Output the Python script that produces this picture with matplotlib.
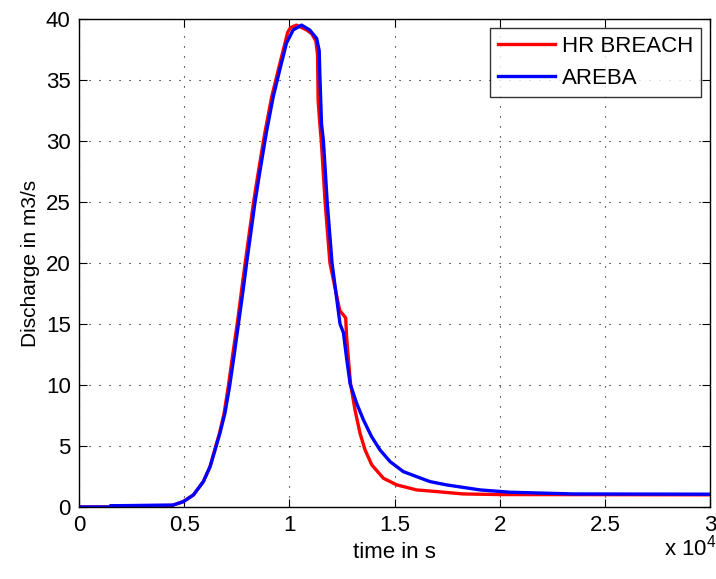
import matplotlib
matplotlib.use('Agg')
import matplotlib.pyplot as plt

plt.rcParams['font.family'] = ['Liberation Sans', 'DejaVu Sans']
plt.rcParams['mathtext.fontset'] = 'custom'
plt.rcParams['mathtext.rm'] = 'Liberation Sans'

# time in units of 10^4 s, discharge in m3/s
t_hr = [0, 0.15, 0.15, 0.44, 0.496, 0.544, 0.591, 0.623, 0.645, 0.668, 0.690, 0.710,
        0.731, 0.752, 0.771, 0.790, 0.810, 0.830, 0.853, 0.877, 0.885, 0.916, 0.947,
        0.979, 0.992, 1.006, 1.034, 1.082, 1.106, 1.126, 1.134, 1.137, 1.145, 1.152,
        1.17, 1.193, 1.23, 1.24, 1.268, 1.272, 1.281, 1.291, 1.312, 1.336, 1.360,
        1.392, 1.447, 1.511, 1.605, 1.669, 1.827, 2.0, 3.0]
q_hr = [0, 0, 0.1, 0.12, 0.44, 0.99, 2.08, 3.3, 4.68, 6.05, 7.7, 9.9,
        12.5, 15.0, 17.5, 20.0, 22.5, 25.0, 27.5, 30.0, 30.8, 33.6, 35.8,
        38.0, 38.9, 39.3, 39.5, 39.1, 38.8, 38.2, 37.1, 33.3, 31.4, 30.0,
        25.0, 20.0, 16.9, 16.1, 15.5, 14.0, 12.1, 10.1, 7.97, 6.05, 4.68,
        3.45, 2.36, 1.81, 1.40, 1.31, 1.07, 1.02, 1.0]

t_areba = [0, 0.15, 0.15, 0.448, 0.496, 0.544, 0.591, 0.623, 0.647, 0.670, 0.694, 0.716,
           0.738, 0.758, 0.778, 0.797, 0.817, 0.837, 0.860, 0.884, 0.892, 0.923, 0.954,
           0.986, 1.018, 1.058, 1.097, 1.130, 1.142, 1.145, 1.153, 1.162, 1.18, 1.203,
           1.241, 1.257, 1.273, 1.289, 1.320, 1.352, 1.391, 1.431, 1.479, 1.542, 1.605,
           1.669, 1.748, 1.907, 2.05, 2.35, 3.0]
q_areba = [0, 0, 0.1, 0.16, 0.44, 0.99, 2.08, 3.3, 4.68, 6.05, 7.7, 9.9,
           12.5, 15.0, 17.5, 20.0, 22.5, 25.0, 27.5, 30.0, 30.8, 33.6, 35.8,
           38.0, 39.1, 39.5, 39.1, 38.4, 37.4, 35.5, 31.4, 30.0, 25.0, 20.0,
           15.0, 14.3, 12.1, 10.1, 8.5, 7.15, 5.77, 4.68, 3.72, 2.9, 2.49,
           2.08, 1.81, 1.4, 1.21, 1.07, 1.05]

xticks = [0, 0.5, 1, 1.5, 2, 2.5, 3]
xticklabels = ['0', '0.5', '1', '1.5', '2', '2.5', '3']
yticks = [0, 5, 10, 15, 20, 25, 30, 35, 40]

fig = plt.figure(figsize=(7.16, 5.79), dpi=100)
ax = fig.add_axes([79 / 716, 1 - 507 / 579, (710 - 79) / 716, (507 - 19) / 579])

ax.plot(t_hr, q_hr, color='#ff0000', lw=2.4, label='HR BREACH')
ax.plot(t_areba, q_areba, color='#0000ff', lw=2.4, label='AREBA')

ax.set_xlim(0, 3)
ax.set_ylim(0, 40)
ax.set_xticks(xticks)
ax.set_xticklabels(xticklabels)
ax.set_yticks(yticks)
ax.tick_params(direction='in', length=6, width=0.8, top=True, right=True,
               labelsize=16, pad=6)
ax.grid(True, color='black', linestyle=(0, (1, 8)), linewidth=0.8)
for s in ax.spines.values():
    s.set_linewidth(1.0)

ax.set_xlabel('time in s', fontsize=16, labelpad=4)
ax.set_ylabel('Discharge in m3/s', fontsize=15, labelpad=4)
fig.text(664 / 716, 1 - 548 / 579, r'x 10$^{\mathregular{4}}$', fontsize=16, va='center')

leg = ax.legend(loc='upper right', fontsize=16, frameon=True, fancybox=False,
                edgecolor='black', handlelength=2.6, borderaxespad=0.4,
                labelspacing=0.5, handletextpad=0.3, borderpad=0.35)
leg.get_frame().set_linewidth(1.0)

fig.savefig('out.png', dpi=100)
